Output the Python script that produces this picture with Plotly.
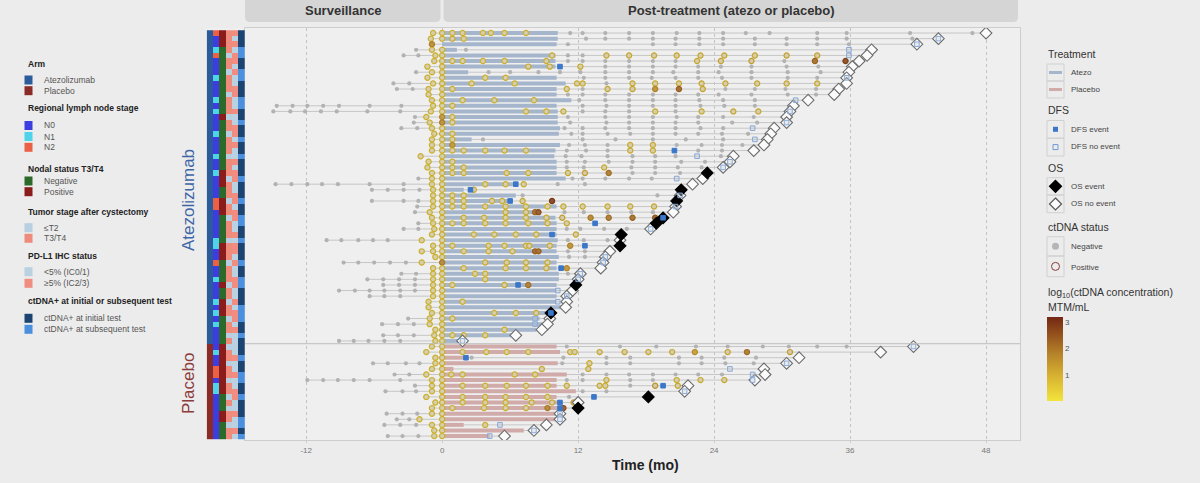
import plotly.graph_objects as go

# ---------------------------------------------------------------- data
n_atezo, n_placebo = 56, 17

os_time = [48.0, 43.8, 41.9, 37.9, 37.5, 36.8, 36.2, 35.9, 35.7, 35.7, 35.0, 34.6, 32.3, 31.0, 30.7, 30.4,
           30.4, 29.3, 29.0, 28.7, 28.4, 27.5, 25.7, 25.4, 24.8, 23.4, 23.0, 22.1, 21.1, 21.0, 20.7, 20.6,
           20.4, 19.5, 18.9, 18.4, 15.8, 15.7, 15.7, 14.8, 14.4, 14.2, 14.0, 12.2, 12.0, 11.8, 11.5, 11.0,
           11.0, 10.9, 9.6, 9.5, 9.3, 8.8, 6.5, 1.8,
           41.6, 38.7, 31.5, 30.4, 28.4, 28.5, 27.6, 21.7, 21.4, 18.2, 12.0, 12.0, 10.4, 10.4, 9.2, 8.1, 5.5]
os_event = [0, 0, 0, 0, 0, 0, 0, 0, 0, 0, 0, 0, 0, 0, 0, 0, 0, 0, 0, 0, 0, 0, 0, 0, 0, 1, 0, 0, 1, 0, 1, 0,
            0, 1, 1, 0, 1, 0, 1, 0, 0, 0, 0, 0, 0, 1, 0, 0, 0, 0, 1, 0, 0, 0, 0, 0,
            0, 0, 0, 0, 0, 0, 0, 0, 0, 1, 0, 1, 0, 0, 0, 0, 0]
trt_end = [10.2, 10.2, 10.1, 1.3, 10.0, 10.0, 10.0, 2.3, 10.1, 10.9, 10.1, 10.1, 11.4, 10.1, 10.2, 10.2,
           10.2, 10.4, 10.3, 2.6, 10.4, 10.0, 9.9, 10.1, 10.1, 10.1, 10.9, 6.3, 1.9, 6.5, 6.0, 10.1,
           8.2, 10.0, 10.1, 10.1, 10.1, 10.2, 10.1, 10.1, 10.3, 10.1, 10.1, 10.3, 10.3, 10.1, 10.1, 10.1,
           10.1, 10.7, 9.5, 8.6, 8.9, 8.3, 6.3, 1.6,
           10.1, 10.4, 1.9, 10.2, 1.0, 11.0, 10.1, 10.1, 11.8, 10.1, 10.3, 10.3, 10.0, 10.1, 1.9, 7.2, 4.2]
dfs_time = [None, 43.8, 41.9, 35.9, 35.9, None, 10.4, None, 35.7, None, None, None, 31.2, None, 30.7, None,
            30.4, 27.4, None, 27.6, None, 20.5, 22.5, 25.4, 24.8, None, 20.7, 6.5, 2.5, 21.0, 6.0, 20.6,
            None, 19.5, 13.5, 18.4, 9.7, None, 12.6, None, 14.4, 14.2, 10.5, 12.2, 12.0, 6.7, 10.2, 11.0,
            10.2, None, 9.6, 8.2, 8.2, None, None, 1.8,
            41.6, None, 2.1, 30.4, 25.4, 27.4, 27.4, 19.5, 21.4, 13.4, 10.4, 10.4, 10.4, 10.4, 5.1, 8.1, 4.2]
dfs_event = [None, 0, 0, 0, 0, None, 1, None, 0, None, None, None, 0, None, 0, None,
             0, 0, None, 0, None, 1, 0, 0, 0, None, 0, 1, 1, 0, 1, 0,
             None, 1, 1, 0, 1, None, 1, None, 0, 0, 1, 0, 0, 1, 0, 0,
             0, None, 1, 0, 0, None, None, 0,
             0, None, 1, 0, 0, 0, 0, 1, 0, 1, 1, 1, 0, 0, 0, 0, 0]

# ctDNA tests during surveillance (negative)
surv_tests = [[], [], [], [-2.3], [-3.4, -2.1], [], [], [-2.3], [], [-4.3, -2.9], [-4.0, -2.6], [], [],
              [-14.6, -13.2, -11.9, -10.5, -9.1, -6.4, -3.6], [-14.9, -13.4, -12.1, -10.7, -9.3, -6.6, -3.7],
              [-2.4], [-2.5], [-3.6, -2.2], [], [], [], [], [], [], [], [], [-2.1],
              [-14.7, -13.3, -11.9, -10.6, -9.2, -6.4, -3.4], [-6.2, -4.8, -3.4, -2.0], [], [-6.2, -3.4, -2.1],
              [-2.2], [-2.4], [], [-2.1], [-3.4, -2.1], [], [-10.2, -8.9, -7.4, -6.1, -4.8], [], [], [],
              [-8.7, -7.4, -6.0, -4.6, -3.2], [], [-3.6, -2.3], [-6.6, -5.2, -3.8, -2.4], [-5.2, -3.8, -2.4],
              [-9.1, -7.7, -6.4, -5.1, -3.7, -2.4], [-6.4, -5.1, -3.7], [], [], [], [-3.0], [-5.3, -3.9, -2.5],
              [], [-5.2, -3.9, -2.5], [-9.1, -7.8, -6.5, -5.1, -3.7],
              [], [], [], [-6.1, -4.8, -3.2, -2.0], [], [-4.2, -2.9], [-11.9, -10.5, -9.2, -7.8, -6.4, -3.7],
              [-2.4], [-5.0, -3.5, -2.3], [], [], [], [-4.9, -3.5, -2.2], [-4.0, -2.9], [-5.1, -3.7, -2.3], [],
              [-4.8, -3.5, -2.1]]

# negative ctDNA tests after the start of treatment
neg_times = [[11.3, 12.4, 14.4, 16.5, 18.6, 20.7, 22.7, 24.8, 26.8, 28.9, 33.1, 35.7, 41.3, 46.8],
             [12.7, 14.4, 16.5, 18.6, 20.6, 22.7, 24.8, 27.6, 30.4, 33.1, 35.7, 41.5],
             [11.1, 18.6, 20.6, 22.7, 24.8, 27.6, 30.4, 33.1, 35.9],
             [2.1], [11.1, 12.4], [11.1, 12.4, 14.4, 16.5, 18.6, 20.6, 30.2],
             [14.4, 16.5, 18.6, 20.6, 22.6, 24.6, 27.3, 30.4, 33.2],
             [4.1, 6.0, 8.5, 10.4, 12.2, 14.4, 16.5, 18.6, 20.4, 22.6, 24.4, 27.3, 30.5, 33.4],
             [12.5, 14.4, 16.5, 18.5, 20.6, 22.6, 24.7, 27.3, 30.5, 33.1],
             [14.5], [12.4, 25.0, 27.6, 30.3, 33.0],
             [11.1, 12.4, 14.4, 16.5, 18.6, 20.6, 22.6, 24.4, 27.3, 30.5, 33.0],
             [12.1, 14.4, 16.5, 18.6, 20.6, 22.7, 24.8, 27.6],
             [12.4, 14.5, 16.5, 18.6, 20.6, 22.8, 24.9, 27.6],
             [12.4, 14.4, 16.5, 20.6],
             [11.1, 14.4, 16.5, 18.6, 20.7, 22.6, 24.8, 27.5],
             [11.3, 14.5, 16.5, 18.6, 20.6, 22.6, 25.6, 27.8],
             [10.8, 12.4, 14.4, 16.5, 18.6, 20.6, 22.8, 24.8],
             [11.4, 12.4, 14.6, 16.6, 18.6, 20.6, 22.6, 24.7, 27.0],
             [3.6, 12.4, 15.3, 18.6, 21.5, 24.8],
             [11.2, 12.6, 14.6, 20.7, 22.9, 24.7, 26.5],
             [11.0, 12.7, 14.6, 22.6, 24.7],
             [10.9, 12.3, 14.6, 16.8, 18.8, 20.6, 24.6],
             [11.0, 12.6, 14.7, 16.8, 18.8, 21.1, 23.2],
             [11.0, 12.5, 16.7, 18.8, 20.8, 22.9],
             [16.8, 18.8, 21.0],
             [11.5, 12.4, 14.4, 16.5, 18.5],
             [10.2, 12.6], [], [7.1, 19.0], [], [], [10.8, 12.5, 14.6, 16.7, 18.6], [], [],
             [11.0, 12.2, 14.3, 16.3], [], [11.1, 12.5, 14.6], [], [11.1, 12.6], [11.2, 12.6], [], [],
             [11.1], [], [], [], [], [], [], [], [], [], [], [], [],
             [11.0, 15.7, 18.9, 22.4, 25.2, 28.3, 30.6, 33.1, 35.7], [],
             [2.6, 10.7, 14.5, 16.6, 20.9, 22.9, 24.9, 27.7],
             [10.6, 14.5, 16.6, 20.9, 22.9, 25.0, 27.5], [],
             [12.4, 14.5, 16.5, 18.6, 20.6, 22.6, 24.7], [11.0, 12.4, 16.6, 18.6], [16.6], [12.4, 14.5],
             [11.2], [], [], [], [], [], [], []]

# positive ctDNA tests and their log10 concentration (MTM/mL)
pos_times = [[-0.8, 0, 0.9, 1.8, 3.6, 4.3, 5.5, 7.4], [-1.0, 0, 0.9, 1.9], [-0.9], [-0.9, 0],
             [-0.6, 0, 9.7, 14.5, 16.5, 18.7, 20.7, 22.8, 24.9, 27.6, 30.4, 33.1],
             [-0.7, 0, 0.9, 1.8, 3.6, 5.5, 9.2, 22.5, 24.6, 27.3, 32.9, 35.6],
             [-1.3, 0, 7.6, 9.5, 12.2], [-0.9, 0], [-1.3, 0, 3.8, 5.6],
             [-0.8, 0, 2.6, 6.4, 11.9, 12.4, 16.8, 18.8, 20.9, 22.9, 25.0, 27.8, 30.4, 33.1],
             [-1.2, 0, 0.9, 11.0, 14.6, 16.8, 18.8, 20.9, 23.0], [-1.2, 0], [-0.9, 0, 1.8, 4.6, 8.1],
             [-0.8, 0, 0.9], [-1.0, 0, 7.4, 9.2, 10.7, 18.8, 22.9, 25.7, 27.9], [-1.4, 0, 0.9],
             [-1.1, 0, 0.9], [-0.9, 0], [-0.7, 0, 0.9], [-0.9, 0, 0.9], [-0.9, 0, 0.9, 16.6, 18.6],
             [-0.9, 0, 0.9, 1.9, 3.8, 5.5, 7.4, 16.6, 18.6], [-1.9, 0], [-1.2, 0, 0.9],
             [-1.3, 0, 0.9, 1.9, 14.3], [-0.9, 0, 0.9, 1.9, 5.7, 7.6, 11.1, 12.6, 14.7], [-0.9, 0],
             [-0.9, 0, 3.8, 5.6, 7.2], [-0.8, 0, 2.8], [-0.8, 0, 0.9, 1.9],
             [-0.8, 0, 0.9, 1.9, 4.4, 5.3, 7.1, 9.7],
             [-0.8, 0, 0.9, 1.9, 3.8, 5.6, 7.4, 9.3, 10.7, 12.4, 14.6, 16.6, 18.7, 20.6],
             [-1.1, 0, 5.6, 7.4, 8.2, 8.5],
             [-0.9, 0, 1.9, 3.7, 5.6, 7.4, 9.2, 10.6, 13.1, 14.7, 16.8, 18.8],
             [-0.8, 0, 0.9, 1.9, 3.8, 5.6, 7.6, 9.3, 11.0], [-0.7, 0], [-0.9, 0, 2.8, 4.6, 6.5, 8.3, 11.8],
             [-1.8, 0], [-0.8, 0, 0.9, 4.1, 5.5, 7.4, 7.7, 9.5, 11.3], [-1.8, -0.8, 0, 1.9, 4.1, 6.2, 8.2, 8.5],
             [-0.6, 0], [-1.8, 0, 3.8, 5.7, 7.4, 9.3], [-0.8, 0, 1.9, 5.6, 7.4, 9.2, 11.0],
             [-0.8, 0, 2.9, 3.8], [-0.8, 0, 3.8], [-0.8, 0, 0.9, 5.5, 7.6], [-0.8, 0], [-0.8, 0],
             [-1.2, 0, 1.8], [-1.2, 0], [-0.9, 0, 4.6, 6.5, 8.3], [-1.1, 0, 0.9], [-1.1, 0], [-0.6, 0, 5.5],
             [-0.7, 0, 0.9, 1.9, 3.8], [-0.6, 0],
             [-0.9, 0], [-1.4, 0, 1.8, 3.9, 5.7, 7.6, 11.3, 11.7, 13.9, 16.1, 18.2, 20.3, 22.3, 25.2, 26.9, 30.7],
             [-0.6, 0], [-0.6, 0, 13.0], [-0.9, 0, 8.8, 12.9], [-1.4, 0, 0.8, 1.8, 6.4, 8.2],
             [-0.9, 0, 14.5, 20.7, 22.8, 24.9, 27.6],
             [-0.9, 0, 1.8, 3.8, 5.7, 7.4, 9.3, 11.0, 13.9, 14.4, 18.8, 20.8], [-0.9, 0],
             [-1.4, 0, 1.8, 3.8, 5.6, 7.4, 9.3], [-0.6, 0, 1.8, 3.8, 5.6, 7.9, 9.7, 11.6],
             [-0.9, 0, 0.9, 3.7, 5.6, 7.4, 9.3, 10.7], [-0.9, 0], [-2.0, 0], [-0.9, 0, 3.8], [-0.7, 0],
             [-0.7, 0]]
pos_conc = [[0.6, 0.6, 0.6, 0.6, 0.6, 0.6, 0.6, 0.6], [0.6, 0.6, 0.7, 0.6], [1.7], [0.6, 0.6],
            [0.6, 0.6, 0.7, 0.8, 0.8, 0.8, 0.8, 0.8, 0.8, 0.8, 0.9, 0.9],
            [0.6, 0.6, 0.6, 0.6, 0.6, 0.6, 0.7, 0.8, 0.9, 1.0, 2.2, 2.8],
            [0.6, 0.6, 0.7, 0.7, 0.7], [0.6, 0.6], [0.6, 0.6, 0.6, 0.6],
            [0.6, 0.6, 0.6, 0.6, 0.7, 0.7, 0.7, 0.7, 0.8, 0.8, 0.8, 0.8, 0.8, 0.8],
            [0.6, 0.6, 0.6, 0.7, 0.8, 0.9, 1.6, 2.3, 0.9], [0.6, 0.6], [0.6, 0.6, 0.6, 0.6, 0.6],
            [0.6, 0.6, 0.6], [0.6, 0.6, 0.6, 0.6, 0.7, 0.7, 0.7, 0.8, 0.8], [0.6, 1.5, 0.6],
            [0.6, 1.7, 0.6], [0.6, 0.6], [0.6, 0.6, 0.6], [0.6, 0.6, 0.6], [0.6, 0.6, 1.5, 0.7, 0.7],
            [0.6, 0.6, 0.6, 0.6, 0.6, 0.6, 0.6, 0.7, 0.7], [0.6, 0.6], [0.6, 0.6, 0.6],
            [0.6, 0.6, 0.6, 0.6, 0.7], [0.6, 0.6, 0.6, 0.6, 0.6, 0.6, 0.8, 1.0, 2.0], [0.6, 0.6],
            [0.6, 0.6, 0.6, 0.6, 0.7], [0.6, 0.6, 0.7], [0.6, 0.6, 0.6, 0.6],
            [0.6, 0.6, 0.6, 0.6, 0.7, 0.7, 0.8, 3.0],
            [0.6, 0.6, 0.6, 0.6, 0.6, 0.6, 0.6, 0.6, 0.7, 0.7, 0.7, 0.7, 0.8, 0.8],
            [0.6, 0.6, 0.7, 0.7, 2.2, 2.6],
            [0.6, 0.6, 0.6, 0.6, 0.6, 0.6, 0.7, 1.0, 1.8, 2.0, 2.2, 2.5],
            [0.6, 0.6, 0.6, 0.6, 0.6, 0.6, 0.6, 0.7, 0.8], [0.6, 0.6], [0.6, 0.6, 0.6, 0.6, 0.6, 0.7, 0.8],
            [0.6, 0.6], [0.6, 0.6, 0.6, 0.6, 0.6, 0.7, 0.7, 0.7, 1.6], [0.6, 0.6, 0.6, 0.6, 0.6, 0.7, 2.3, 2.3],
            [0.6, 0.6], [0.6, 1.8, 0.7, 0.7, 0.7, 0.7], [0.6, 0.6, 0.6, 0.6, 0.6, 0.7, 1.5],
            [0.6, 0.6, 0.6, 0.6], [0.6, 0.6, 0.6], [0.6, 0.6, 0.6, 0.7, 2.0], [0.6, 0.6], [0.6, 0.6],
            [0.6, 0.6, 0.6], [0.6, 0.6], [0.6, 0.6, 0.6, 0.6, 0.7], [0.6, 0.6, 0.6], [0.6, 0.6], [0.6, 0.6, 0.6],
            [0.6, 0.6, 0.6, 0.6, 0.6], [0.6, 0.6],
            [0.6, 0.6], [0.6, 0.6, 0.6, 0.6, 0.6, 0.6, 0.7, 0.7, 0.8, 0.8, 0.8, 0.8, 1.4, 0.9, 2.0, 1.0],
            [0.6, 0.6], [0.6, 0.6, 0.7], [0.6, 0.6, 0.7, 0.7], [0.6, 0.6, 0.6, 0.6, 0.6, 0.6],
            [0.6, 0.6, 0.7, 0.7, 0.7, 0.8, 0.8],
            [0.6, 0.6, 0.6, 0.6, 0.6, 0.6, 0.6, 0.7, 0.7, 0.7, 1.2, 0.8], [0.6, 0.6],
            [0.6, 0.6, 0.6, 0.6, 0.6, 0.6, 0.6], [0.6, 0.6, 0.6, 0.6, 0.6, 0.7, 0.8, 1.0],
            [0.6, 0.6, 0.6, 0.6, 0.6, 0.7, 1.8, 2.6], [0.6, 0.6], [0.6, 0.6], [0.6, 0.6, 0.6], [0.6, 0.6],
            [0.6, 0.6]]

# annotation tiles (per patient row)
node_stage = [2, 0, 0, 1, 2, 0, 0, 0, 1, 0, 0, 0, 1, 0, 1, 0, 0, 0, 1, 0, 0, 0, 1, 0, 0, 1, 0, 0,
              0, 0, 2, 2, 0, 0, 0, 0, 0, 1, 1, 0, 0, 2, 0, 0, 1, 0, 0, 0, 1, 0, 1, 0, 1, 0, 0, 0,
              0, 1, 0, 0, 2, 2, 0, 1, 1, 0, 0, 0, 0, 0, 0, 0, 0]
nodal_status = [1, 1, 1, 0, 0, 0, 0, 0, 0, 0, 0, 0, 0, 0, 0, 1, 0, 0, 0, 0, 0, 0, 0, 0, 0, 1, 1, 1,
                0, 0, 1, 1, 1, 0, 0, 0, 0, 0, 1, 1, 1, 0, 0, 0, 0, 1, 0, 0, 1, 1, 1, 0, 0, 0, 0, 0,
                1, 1, 1, 1, 1, 1, 1, 1, 1, 0, 0, 0, 1, 1, 0, 0, 0]
tumor_stage = [1, 1, 1, 1, 0, 1, 1, 0, 1, 1, 1, 0, 1, 1, 1, 0, 1, 1, 0, 1, 1, 1, 0, 1, 1, 1, 0, 1,
               1, 1, 0, 1, 1, 0, 1, 1, 1, 0, 1, 1, 1, 0, 1, 1, 1, 0, 1, 1, 0, 1, 1, 0, 1, 1, 0, 1,
               0, 1, 1, 0, 1, 1, 0, 1, 1, 0, 1, 0, 1, 1, 0, 1, 1]
pdl1_status = [1, 0, 1, 0, 1, 1, 0, 1, 0, 0, 1, 1, 0, 0, 1, 0, 0, 1, 1, 0, 1, 0, 0, 1, 0, 1, 1, 0,
               0, 1, 1, 0, 1, 1, 0, 0, 1, 0, 1, 1, 0, 1, 0, 0, 1, 1, 0, 0, 1, 0, 1, 1, 0, 1, 0, 0,
               0, 0, 1, 0, 0, 1, 0, 0, 1, 1, 0, 0, 1, 0, 0, 1, 0]
ctdna_first = [0, 0, 0, 1, 1, 0, 0, 1, 1, 0, 0, 0, 1, 1, 0, 0, 1, 0, 0, 1, 0, 0, 1, 0, 0, 0, 1, 0,
               0, 0, 1, 0, 0, 1, 1, 0, 0, 1, 0, 0, 0, 1, 0, 0, 1, 1, 0, 0, 0, 1, 1, 1, 0, 0, 1, 0,
               0, 0, 1, 0, 0, 1, 1, 0, 0, 1, 0, 0, 0, 1, 1, 0, 1]

x_ticks = [-12, 0, 12, 24, 36, 48]
facet_labels = ["Surveillance", "Post-treatment (atezo or placebo)"]
conc_ticks = [1, 2, 3]

# ---------------------------------------------------------------- styling helpers
W, H = 1200, 483
ML, MR, MT, MB = 200, 180, 28, 43
PW, PH = W - ML - MR, H - MT - MB
FONT = "Liberation Sans, Arial, sans-serif"
BG = "#ececec"


def px(X):
    return (X - ML) / PW


def py(Y):
    return (H - MB - Y) / PH


def hex2rgb(h):
    h = h.lstrip('#')
    return tuple(int(h[i:i + 2], 16) for i in (0, 2, 4))


def rgb2hex(c):
    return '#%02x%02x%02x' % tuple(int(round(v)) for v in c)


CMAX = 3.2
conc_scale = [(0.0, '#f2e43c'), (0.28, '#d9b532'), (0.55, '#b7852a'), (0.8, '#93501c'), (1.0, '#742712')]


def conc_color(v):
    t = max(0.0, min(1.0, v / CMAX))
    for (a, ca), (b, cb) in zip(conc_scale[:-1], conc_scale[1:]):
        if a <= t <= b:
            f = (t - a) / (b - a)
            A, B = hex2rgb(ca), hex2rgb(cb)
            return rgb2hex([A[i] + f * (B[i] - A[i]) for i in range(3)])
    return conc_scale[-1][1]


def blend(c, bg, f):
    A, B = hex2rgb(c), hex2rgb(bg)
    return rgb2hex([A[i] * f + B[i] * (1 - f) for i in range(3)])


n = n_atezo + n_placebo
rows = list(range(n))
arm = [0 if r < n_atezo else 1 for r in rows]

fig = go.Figure()

# follow-up lines
lx, ly = [], []
for r in rows:
    start = min([0.0] + surv_tests[r] + pos_times[r] + neg_times[r])
    lx += [start, os_time[r], None]
    ly += [r, r, None]
fig.add_trace(go.Scatter(x=lx, y=ly, mode='lines', line=dict(color='#c6c6c6', width=1),
                         hoverinfo='skip', showlegend=False))

# treatment bars
for a, col in [(0, '#a5b6cc'), (1, '#d0abaa')]:
    bx, by = [], []
    for r in rows:
        if arm[r] == a:
            bx += [0, trt_end[r], None]
            by += [r, r, None]
    fig.add_trace(go.Scatter(x=bx, y=by, mode='lines', line=dict(color=col, width=4),
                             hoverinfo='skip', showlegend=False))

# negative ctDNA
nx, ny = [], []
for r in rows:
    for t in surv_tests[r] + neg_times[r]:
        nx.append(t)
        ny.append(r)
fig.add_trace(go.Scatter(x=nx, y=ny, mode='markers',
                         marker=dict(symbol='circle', size=4.2, color='#b2b2b2', line=dict(width=0)),
                         hoverinfo='skip', showlegend=False))

# positive ctDNA
qx, qy, qfill, qline = [], [], [], []
for r in rows:
    for t, c in zip(pos_times[r], pos_conc[r]):
        qx.append(t)
        qy.append(r)
        cc = conc_color(c)
        qline.append(blend(cc, '#6b5010', 0.82))
        qfill.append(blend(cc, '#d2d2d2', 0.22) if c < 1.4 else blend(cc, '#d2d2d2', 0.85))
fig.add_trace(go.Scatter(x=qx, y=qy, mode='markers',
                         marker=dict(symbol='circle', size=5.2, color=qfill, line=dict(color=qline, width=1.2)),
                         hoverinfo='skip', showlegend=False))

# OS diamonds
for ev, fill, lc in [(0, '#fbfbfb', '#6b6b6b'), (1, '#000000', '#000000')]:
    dx = [os_time[r] for r in rows if os_event[r] == ev]
    dy = [r for r in rows if os_event[r] == ev]
    fig.add_trace(go.Scatter(x=dx, y=dy, mode='markers',
                             marker=dict(symbol='diamond', size=9, color=fill, line=dict(color=lc, width=1.1)),
                             hoverinfo='skip', showlegend=False))

# DFS squares
for ev, fill, lc in [(0, 'rgba(200,200,200,0.35)', '#86a9d8'), (1, '#3a77c9', '#3a77c9')]:
    sx = [dfs_time[r] for r in rows if dfs_time[r] is not None and dfs_event[r] == ev]
    sy = [r for r in rows if dfs_time[r] is not None and dfs_event[r] == ev]
    fig.add_trace(go.Scatter(x=sx, y=sy, mode='markers',
                             marker=dict(symbol='square', size=4.6, color=fill, line=dict(color=lc, width=1)),
                             hoverinfo='skip', showlegend=False))

# colorbar for concentration
fig.add_trace(go.Scatter(x=[None], y=[None], mode='markers', hoverinfo='skip', showlegend=False,
                         marker=dict(color=[0], cmin=0, cmax=CMAX,
                                     colorscale=[[a, c] for a, c in conc_scale], showscale=True,
                                     colorbar=dict(xref='paper', yref='paper', x=px(1047),
                                                   xanchor='left', y=py(359), yanchor='middle',
                                                   lenmode='pixels', len=84, thickness=16, ypad=0, xpad=0,
                                                   outlinewidth=0, tickvals=conc_ticks, ticks='',
                                                   tickfont=dict(size=8, color='#555', family=FONT)))))

# annotation tiles
tile_colors = ['#2c5b9b', '#8b2b27',            # arm
               '#3c3de0', '#4fd3ea', '#ea6148',  # node stage
               '#2b6a2b', '#8a1c1c',             # nodal status
               '#b7cfe0', '#ef8b7c',             # tumor stage
               '#b9d1e1', '#f08d80',             # PD-L1
               '#1c4473', '#4b8fdf']             # ctDNA+
offsets = [0, 2, 5, 7, 9, 11]
cols = [arm, node_stage, nodal_status, tumor_stage, pdl1_status, ctdna_first]
z = [[offsets[j] + cols[j][r] for j in range(6)] for r in rows]
K = len(tile_colors)
cscale = []
for k, c in enumerate(tile_colors):
    cscale += [[k / K, c], [(k + 1) / K, c]]
fig.add_trace(go.Heatmap(z=z, x=list(range(6)), y=rows, xaxis='x2', yaxis='y', zmin=-0.5, zmax=K - 0.5,
                         colorscale=cscale, showscale=False, hoverinfo='skip', xgap=0, ygap=0))

# ---------------------------------------------------------------- layout
shapes = []
annotations = []


def note(X, Y, text, size, color, xanchor='center', angle=0):
    annotations.append(dict(xref='paper', yref='paper', x=px(X), y=py(Y), xanchor=xanchor, yanchor='middle',
                            text=text, showarrow=False, textangle=angle,
                            font=dict(size=size, color=color, family=FONT)))


def rrect(X0, Y0, X1, Y1, rad, fill):
    p = (f"M {px(X0 + rad)},{py(Y0)} L {px(X1 - rad)},{py(Y0)} Q {px(X1)},{py(Y0)} {px(X1)},{py(Y0 + rad)} "
         f"L {px(X1)},{py(Y1 - rad)} Q {px(X1)},{py(Y1)} {px(X1 - rad)},{py(Y1)} "
         f"L {px(X0 + rad)},{py(Y1)} Q {px(X0)},{py(Y1)} {px(X0)},{py(Y1 - rad)} "
         f"L {px(X0)},{py(Y0 + rad)} Q {px(X0)},{py(Y0)} {px(X0 + rad)},{py(Y0)} Z")
    return dict(type='path', xref='paper', yref='paper', path=p, fillcolor=fill, line=dict(width=0),
                layer='below')


# facet strips
shapes.append(rrect(245, -8, 440.5, 22, 5, '#d5d5d5'))
shapes.append(rrect(443.5, -8, 1018, 22, 5, '#d5d5d5'))
note(343, 11, f"<b>{facet_labels[0]}</b>", 13, '#333')
note(731, 11, f"<b>{facet_labels[1]}</b>", 13, '#333')

# arm separator
shapes.append(dict(type='line', xref='paper', yref='y', x0=px(245), x1=1, y0=n_atezo - 0.5, y1=n_atezo - 0.5,
                   line=dict(color='#bdbdbd', width=1)))

# arm labels
note(188, 200, "Atezolizumab", 17, '#3d66a6', angle=-90)
note(188, 384, "Placebo", 17, '#8c3b3b', angle=-90)

# axis title
note(645, 465, "<b>Time (mo)</b>", 14, '#222')


# left legend
def ltitle(text, Y):
    note(26, Y, f"<b>{text}</b>", 8.5, '#222', xanchor='left')


def litem(text, Y, color):
    shapes.append(dict(type='rect', xref='paper', yref='paper', x0=px(24.5), x1=px(32.5), y0=py(Y - 4.5),
                       y1=py(Y + 4.5), fillcolor=color, line=dict(width=0)))
    note(41.5, Y, text, 8.5, '#555', xanchor='left')


ltitle("Arm", 64)
litem("Atezolizumab", 80, tile_colors[0])
litem("Placebo", 90.7, tile_colors[1])
ltitle("Regional lymph node stage", 108.5)
litem("N0", 125.5, tile_colors[2])
litem("N1", 136.5, tile_colors[3])
litem("N2", 147.3, tile_colors[4])
ltitle("Nodal status T3/T4", 168.5)
litem("Negative", 181, tile_colors[5])
litem("Positive", 191.7, tile_colors[6])
ltitle("Tumor stage after cystectomy", 211.7)
litem("≤T2", 227.7, tile_colors[7])
litem("T3/T4", 238.3, tile_colors[8])
ltitle("PD-L1 IHC status", 255.7)
litem("<5% (IC0/1)", 271.7, tile_colors[9])
litem("≥5% (IC2/3)", 283.3, tile_colors[10])
ltitle("ctDNA+ at initial or subsequent test", 300.7)
litem("ctDNA+ at initial test", 318.3, tile_colors[11])
litem("ctDNA+ at subsequent test", 329.3, tile_colors[12])


# right legend
def rtitle(text, Y):
    note(1046, Y, text, 10.5, '#333', xanchor='left')


def rlabel(text, Y):
    note(1069, Y, text, 8, '#444', xanchor='left')


def keybox(Y0, Y1):
    shapes.append(dict(type='rect', xref='paper', yref='paper', x0=px(1047), x1=px(1064), y0=py(Y1), y1=py(Y0),
                       fillcolor='rgba(0,0,0,0)', line=dict(color='#d0d0d0', width=1)))


def diamond(cx, cy, r, fill, lc):
    p = f"M {px(cx)},{py(cy - r)} L {px(cx + r)},{py(cy)} L {px(cx)},{py(cy + r)} L {px(cx - r)},{py(cy)} Z"
    shapes.append(dict(type='path', xref='paper', yref='paper', path=p, fillcolor=fill,
                       line=dict(color=lc, width=1.2)))


CX = 1055.5
rtitle("Treatment", 54)
keybox(64, 81)
keybox(81, 98)
shapes.append(dict(type='line', xref='paper', yref='paper', x0=px(1049), x1=px(1062), y0=py(72.5), y1=py(72.5),
                   line=dict(color='#a5b6cc', width=3)))
shapes.append(dict(type='line', xref='paper', yref='paper', x0=px(1049), x1=px(1062), y0=py(89.5), y1=py(89.5),
                   line=dict(color='#d0abaa', width=3)))
rlabel("Atezo", 72.5)
rlabel("Placebo", 89.5)

rtitle("DFS", 110)
keybox(120.5, 138.2)
keybox(138.2, 156)
shapes.append(dict(type='rect', xref='paper', yref='paper', x0=px(CX - 2.5), x1=px(CX + 2.5), y0=py(131.8),
                   y1=py(126.8), fillcolor='#3a77c9', line=dict(width=0)))
shapes.append(dict(type='rect', xref='paper', yref='paper', x0=px(CX - 2.5), x1=px(CX + 2.5), y0=py(149.6),
                   y1=py(144.6), fillcolor='rgba(0,0,0,0)', line=dict(color='#6f9ad6', width=1)))
rlabel("DFS event", 129.3)
rlabel("DFS no event", 146.8)

rtitle("OS", 167.5)
keybox(177.7, 195)
keybox(195, 212.7)
diamond(CX, 186.3, 6, '#000000', '#000000')
diamond(CX, 204, 6, '#fbfbfb', '#555555')
rlabel("OS event", 186.2)
rlabel("OS no event", 203.5)

rtitle("ctDNA status", 227.3)
keybox(236.7, 256)
keybox(256, 276.7)
shapes.append(dict(type='circle', xref='paper', yref='paper', x0=px(CX - 3.5), x1=px(CX + 3.5), y0=py(249.8),
                   y1=py(242.8), fillcolor='#b5b5b5', line=dict(width=0)))
shapes.append(dict(type='circle', xref='paper', yref='paper', x0=px(CX - 4), x1=px(CX + 4), y0=py(270.4),
                   y1=py(262.4), fillcolor='rgba(0,0,0,0)', line=dict(color='#8b3a3a', width=1)))
rlabel("Negative", 246.3)
rlabel("Positive", 267.7)

rtitle("log<sub>10</sub>(ctDNA concentration)", 293.3)
rtitle("MTM/mL", 307.3)

fig.update_layout(
    width=W, height=H,
    margin=dict(l=ML, r=MR, t=MT, b=MB, pad=0),
    paper_bgcolor=BG, plot_bgcolor='#efefef',
    font=dict(family=FONT),
    showlegend=False,
    xaxis=dict(domain=[px(245), 1.0], range=[-17.4, 51.0], tickvals=x_ticks, ticktext=[str(v) for v in x_ticks],
               showgrid=True, gridcolor='#c2c2c2', griddash='dot', gridwidth=1, zeroline=False,
               showline=True, mirror=True, linecolor='#cdcdcd', linewidth=1, ticks='outside', ticklen=2,
               tickcolor='#cdcdcd', tickfont=dict(size=8, color='#777', family=FONT)),
    xaxis2=dict(domain=[px(206.7), px(245)], range=[-0.5, 5.5], showgrid=False, zeroline=False,
                showticklabels=False, showline=False, anchor='y'),
    yaxis=dict(range=[n - 1 + 0.7, -0.9], showgrid=False, zeroline=False, showticklabels=False,
               showline=True, mirror=True, linecolor='#cdcdcd', linewidth=1, ticks=''),
    shapes=shapes,
    annotations=annotations,
)

fig.write_html("out.html")
